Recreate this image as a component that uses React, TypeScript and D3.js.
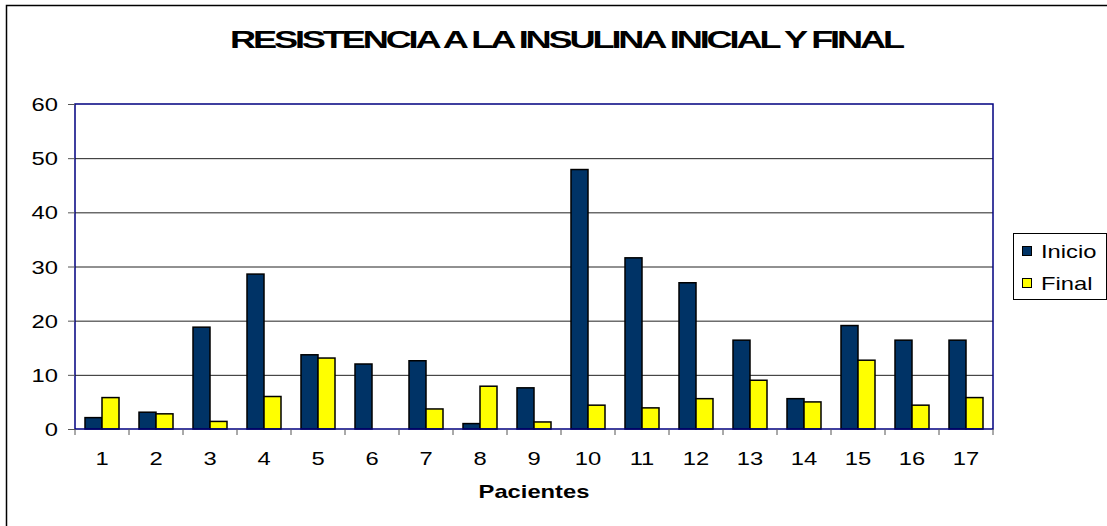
import * as d3 from "d3";
import { useEffect, useRef } from "react";

const pacientes = ["1", "2", "3", "4", "5", "6", "7", "8", "9", "10", "11", "12", "13", "14", "15", "16", "17"];
const inicio = [2.1, 3.1, 18.8, 28.6, 13.7, 12.0, 12.6, 1.0, 7.6, 47.9, 31.6, 27.0, 16.4, 5.6, 19.1, 16.4, 16.4];
const final = [5.8, 2.8, 1.4, 6.0, 13.1, 0, 3.7, 7.9, 1.3, 4.4, 3.9, 5.6, 9.0, 5.0, 12.7, 4.4, 5.8];
const yTicks = [0, 10, 20, 30, 40, 50, 60];
const series = [
  { name: "Inicio", values: inicio, color: "#003366" },
  { name: "Final", values: final, color: "#ffff00" },
];

export default function App() {
  const ref = useRef<SVGSVGElement>(null);

  useEffect(() => {
    if (!ref.current) return;
    const svg = d3.select(ref.current);
    svg.selectAll("*").remove();

    const width = 1107,
      height = 526,
      margin = { top: 104, right: 114, bottom: 97, left: 75 };
    const font = "'Liberation Sans', Arial, sans-serif";
    const sx = 1.25; // the original text is stretched horizontally

    svg.attr("width", width).attr("height", height).style("display", "block");

    const label = (g: any, px: number, py: number, txt: string, anchor = "middle", bold = false) =>
      g.append("text")
        .attr("transform", `translate(${px},${py}) scale(${sx},1)`)
        .attr("text-anchor", anchor)
        .attr("font-family", font)
        .attr("font-size", "19px")
        .attr("font-weight", bold ? "bold" : "normal")
        .attr("fill", "#000")
        .text(txt);

    // outer frame (runs off the right and bottom)
    svg.append("rect")
      .attr("x", 6.5).attr("y", 5.5)
      .attr("width", 1120).attr("height", 540)
      .attr("fill", "white").attr("stroke", "#000").attr("stroke-width", 1.5);

    const x = d3.scaleBand()
      .domain(pacientes)
      .range([margin.left, width - margin.right]);

    const y = d3.scaleLinear()
      .domain([0, 60])
      .range([height - margin.bottom, margin.top]);

    // grid lines
    svg.append("g")
      .selectAll("line")
      .data(yTicks.slice(1, -1))
      .enter()
      .append("line")
      .attr("x1", margin.left).attr("x2", width - margin.right)
      .attr("y1", (d) => y(d) + 0.5).attr("y2", (d) => y(d) + 0.5)
      .attr("stroke", "#222").attr("stroke-width", 1);

    // bars
    const barW = 17;
    const offset = (x.bandwidth() - barW * 2) / 2;
    series.forEach((s, si) => {
      svg.append("g")
        .selectAll("rect")
        .data(s.values.map((v, i) => ({ v, cat: pacientes[i] })))
        .enter()
        .filter((d) => d.v > 0)
        .append("rect")
        .attr("x", (d) => (x(d.cat) as number) + offset + si * barW)
        .attr("y", (d) => y(d.v))
        .attr("width", barW)
        .attr("height", (d) => y(0) - y(d.v))
        .attr("fill", s.color)
        .attr("stroke", "#000")
        .attr("stroke-width", 1.5);
    });

    // plot border
    svg.append("rect")
      .attr("x", margin.left).attr("y", margin.top)
      .attr("width", width - margin.left - margin.right)
      .attr("height", height - margin.top - margin.bottom)
      .attr("fill", "none").attr("stroke", "#000080").attr("stroke-width", 1.5);

    // y axis
    const yg = svg.append("g");
    yg.selectAll("line")
      .data(yTicks)
      .enter()
      .append("line")
      .attr("x1", margin.left - 7).attr("x2", margin.left)
      .attr("y1", (d) => y(d) + 0.5).attr("y2", (d) => y(d) + 0.5)
      .attr("stroke", "#555");
    yTicks.forEach((t) => label(yg, 58, y(t) + 7, String(t), "end"));

    // x axis: ticks at category boundaries
    const xg = svg.append("g");
    const bounds = pacientes.map((p) => x(p) as number).concat([width - margin.right]);
    xg.selectAll("line")
      .data(bounds)
      .enter()
      .append("line")
      .attr("x1", (d) => d).attr("x2", (d) => d)
      .attr("y1", y(0)).attr("y2", y(0) + 6)
      .attr("stroke", "#555");
    pacientes.forEach((p) => label(xg, (x(p) as number) + x.bandwidth() / 2, 465, p));

    // axis title
    label(svg, (margin.left + width - margin.right) / 2, 498, "Pacientes", "middle", true);

    // chart title: tight letters, stretched to fit
    const title = svg.append("text")
      .attr("x", 0)
      .attr("y", 0)
      .attr("font-family", font).attr("font-size", "23px").attr("font-weight", "bold")
      .attr("letter-spacing", "-2px")
      .text("RESISTENCIA A LA INSULINA INICIAL Y FINAL");
    const tw = (title.node() as SVGTextElement).getComputedTextLength() || 560;
    title.attr("transform", `translate(230,48) scale(${672 / tw},1)`);

    // legend
    const lg = svg.append("g");
    lg.append("rect")
      .attr("x", 1013.5).attr("y", 233.5).attr("width", 93).attr("height", 66)
      .attr("fill", "white").attr("stroke", "#000").attr("stroke-width", 1);
    series.forEach((s, i) => {
      const cy = 251 + i * 32;
      lg.append("rect")
        .attr("x", 1022.5).attr("y", cy - 4.5).attr("width", 9).attr("height", 9)
        .attr("fill", s.color).attr("stroke", "#000").attr("stroke-width", 1);
      label(lg, 1041, cy + 7, s.name, "start");
    });
  }, []);

  return <svg ref={ref} style={{ position: "absolute", left: 0, top: 0 }} />;
}
